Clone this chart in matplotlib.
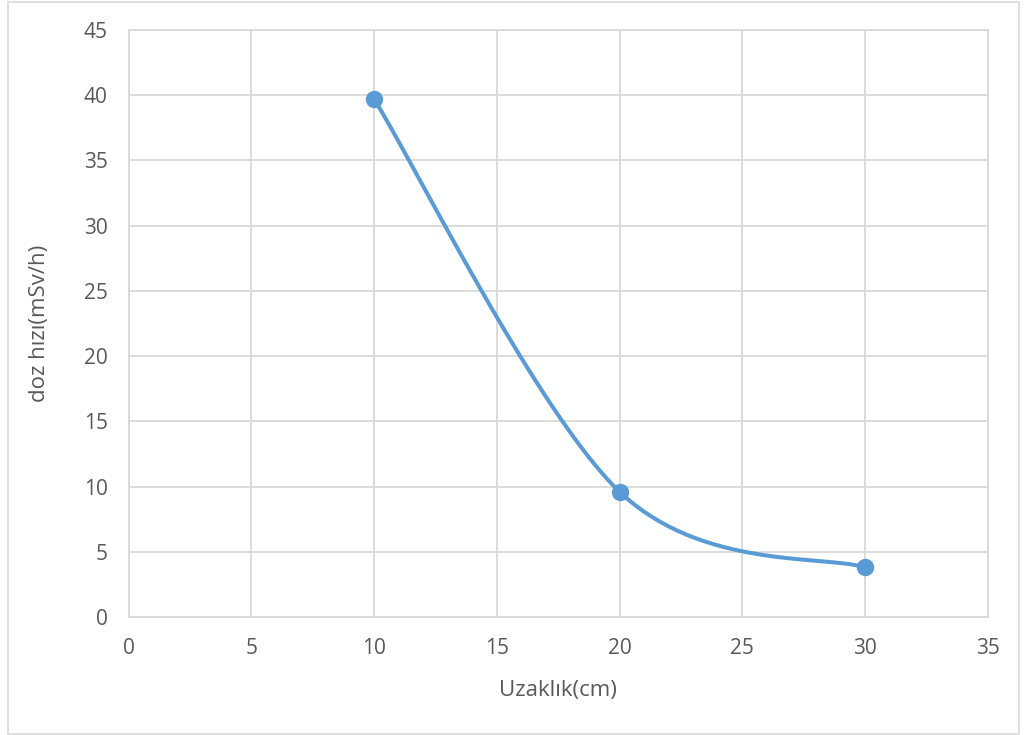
import numpy as np
import matplotlib
matplotlib.use("Agg")
import matplotlib.pyplot as plt
from matplotlib.patches import Rectangle

distance_cm = [10, 20, 30]
dose_rate = [39.7, 9.6, 3.8]
x_ticks = [0, 5, 10, 15, 20, 25, 30, 35]
y_ticks = [0, 5, 10, 15, 20, 25, 30, 35, 40, 45]
x_label = "Uzaklık(cm)"
y_label = "doz hızı(mSv/h)"

plt.rcParams['font.family'] = ['Open Sans', 'DejaVu Sans']

def smooth(xs, ys, n=60):
    P = np.column_stack([xs, ys]).astype(float)
    out = []
    m = len(P)
    for i in range(m - 1):
        p0 = P[i - 1] if i > 0 else P[i]
        p1 = P[i]
        p2 = P[i + 1]
        p3 = P[i + 2] if i + 2 < m else P[i + 1]
        c1 = p1 + (p2 - p0) / 6
        c2 = p2 - (p3 - p1) / 6
        t = np.linspace(0, 1, n)[:, None]
        seg = ((1 - t) ** 3) * p1 + 3 * ((1 - t) ** 2) * t * c1 + 3 * (1 - t) * t ** 2 * c2 + t ** 3 * p2
        out.append(seg if i == 0 else seg[1:])
    s = np.vstack(out)
    return s[:, 0], s[:, 1]

fig = plt.figure(figsize=(10.24, 7.35), dpi=100)
ax = fig.add_axes([128.5 / 1024, 1 - 617 / 735, (988 - 128.5) / 1024, (617 - 30) / 735])

sx, sy = smooth(distance_cm, dose_rate)
color = "#5b9bd5"
ax.plot(sx, sy, color=color, lw=2.9, solid_capstyle='round', zorder=3)
ax.plot(distance_cm, dose_rate, 'o', color=color, ms=11.5, zorder=4)

ax.set_xlim(0, 35)
ax.set_ylim(0, 45)
ax.set_xticks(x_ticks)
ax.set_yticks(y_ticks)
ax.grid(True, color="#d9d9d9", lw=1.3, zorder=0)
ax.set_axisbelow(True)
for sp in ax.spines.values():
    sp.set_color("#d9d9d9")
    sp.set_linewidth(1.3)
ax.tick_params(length=0, labelsize=15, labelcolor="#595959", pad=15)
ax.set_xlabel(x_label, fontsize=16, color="#595959", labelpad=15)
ax.set_ylabel(y_label, fontsize=16, color="#595959", labelpad=24)

fig.patches.append(Rectangle((8 / 1024, 1 / 735), 1011 / 1024, 732 / 735, transform=fig.transFigure,
                             fill=False, edgecolor="#d9d9d9", lw=1.2))

fig.savefig("out.png", dpi=100)
